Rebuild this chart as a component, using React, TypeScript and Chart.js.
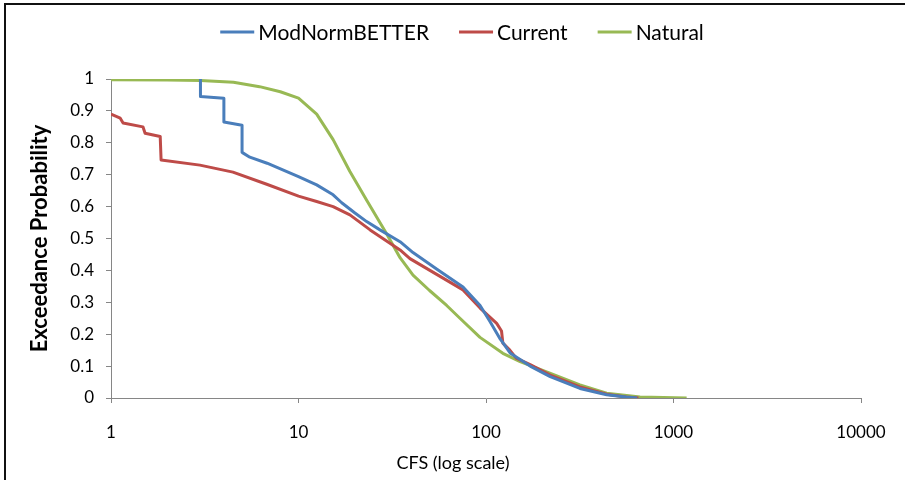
import React, { useEffect, useRef } from "react";
import { Chart, registerables } from "chart.js";

Chart.register(...registerables);

// ---- Data ----
const seriesNames = ["ModNormBETTER", "Current", "Natural"];

const modNormCfs = [3.0, 3.0, 4.0, 4.0, 5.0, 5.0, 5.5, 6.8, 10, 12.5, 15.3, 17, 20, 23.1, 27.2, 34.8, 40.8, 55, 75.4, 93, 105, 119, 135, 172, 220, 317, 440, 560, 640];
const modNormProb = [1.0, 0.945, 0.94, 0.865, 0.855, 0.77, 0.755, 0.736, 0.694, 0.668, 0.637, 0.612, 0.58, 0.553, 0.527, 0.49, 0.456, 0.403, 0.348, 0.29, 0.24, 0.185, 0.14, 0.1, 0.067, 0.03, 0.01, 0.003, 0.0];

const currentCfs = [1.0, 1.12, 1.16, 1.48, 1.52, 1.83, 1.85, 2.98, 4.47, 6.77, 10, 12.5, 15.3, 18.8, 24.1, 34.8, 39.3, 75.4, 93, 114, 121, 123, 134, 145, 172, 220, 317, 440, 560, 650];
const currentProb = [0.89, 0.877, 0.862, 0.85, 0.83, 0.82, 0.746, 0.73, 0.708, 0.67, 0.633, 0.616, 0.6, 0.574, 0.527, 0.464, 0.437, 0.339, 0.282, 0.234, 0.21, 0.172, 0.15, 0.125, 0.105, 0.072, 0.035, 0.012, 0.003, 0.0];

const naturalCfs = [1.0, 2.0, 3.0, 4.5, 6.2, 8.0, 10, 12.5, 15.3, 18.8, 23.1, 29.5, 34.8, 40.8, 50, 61.7, 72.6, 92.9, 123, 152, 219, 317, 440, 663, 1175];
const naturalProb = [0.998, 0.997, 0.995, 0.99, 0.976, 0.96, 0.94, 0.89, 0.81, 0.71, 0.62, 0.515, 0.44, 0.385, 0.337, 0.29, 0.25, 0.19, 0.14, 0.114, 0.078, 0.041, 0.015, 0.003, 0.0];

const xTickValues = [1, 10, 100, 1000, 10000];
const yTickValues = [0, 0.1, 0.2, 0.3, 0.4, 0.5, 0.6, 0.7, 0.8, 0.9, 1];

const xTitle = "CFS (log scale)";
const yTitle = "Exceedance Probability";

const colors = ["#4a7ebb", "#be4b48", "#98b954"];
const FONT = "Lato, 'Open Sans', sans-serif";

function toPoints(xs: number[], ys: number[]) {
  return xs.map((x, i) => ({ x, y: ys[i] }));
}

const overlayPlugin = {
  id: "overlay",
  afterDraw(chart: any) {
    const ctx = chart.ctx;
    const area = chart.chartArea;
    ctx.save();
    // Legend
    ctx.font = `21px ${FONT}`;
    ctx.textBaseline = "middle";
    ctx.textAlign = "left";
    const lineLen = 34;
    const gap = 4;
    const itemGap = 30;
    const widths = seriesNames.map((n) => ctx.measureText(n).width);
    const total = widths.reduce((a, w) => a + lineLen + gap + w, 0) + itemGap * (seriesNames.length - 1);
    let x = 462 - total / 2;
    const ly = 32;
    seriesNames.forEach((n, i) => {
      ctx.strokeStyle = colors[i];
      ctx.lineWidth = 3;
      ctx.beginPath();
      ctx.moveTo(x, ly);
      ctx.lineTo(x + lineLen, ly);
      ctx.stroke();
      ctx.fillStyle = "#000";
      ctx.fillText(n, x + lineLen + gap, ly + 1);
      x += lineLen + gap + widths[i] + itemGap;
    });
    // X title
    ctx.font = `18px ${FONT}`;
    ctx.textAlign = "center";
    ctx.fillText(xTitle, 453, 463);
    // Y title
    ctx.font = `bold 22px ${FONT}`;
    ctx.translate(40, (area.top + area.bottom) / 2);
    ctx.rotate(-Math.PI / 2);
    ctx.fillText(yTitle, 0, 0);
    ctx.restore();
  },
};

export default function App() {
  const ref = useRef<HTMLCanvasElement>(null);
  useEffect(() => {
    if (!ref.current) return;
    const chart = new Chart(ref.current, {
      type: "scatter",
      data: {
        datasets: [
          { label: seriesNames[0], data: toPoints(modNormCfs, modNormProb) },
          { label: seriesNames[1], data: toPoints(currentCfs, currentProb) },
          { label: seriesNames[2], data: toPoints(naturalCfs, naturalProb) },
        ].map((d, i) => ({
          ...d,
          showLine: true,
          borderColor: colors[i],
          backgroundColor: colors[i],
          borderWidth: 3,
          pointRadius: 0,
          pointHoverRadius: 0,
          tension: 0,
          borderJoinStyle: "round" as const,
        })),
      },
      options: {
        animation: false,
        responsive: false,
        maintainAspectRatio: false,
        layout: { padding: { left: 0, top: 79, right: 44, bottom: 0 } },
        plugins: { legend: { display: false }, tooltip: { enabled: false } },
        scales: {
          x: {
            type: "logarithmic",
            min: 1,
            max: 10000,
            afterBuildTicks: (scale: any) => {
              scale.ticks = xTickValues.map((v) => ({ value: v }));
            },
            afterFit: (scale: any) => {
              scale.height = 82;
            },
            ticks: {
              autoSkip: false,
              maxRotation: 0,
              padding: 19,
              color: "#000",
              font: { family: FONT, size: 17 },
              callback: (v: any) => String(v),
            },
            grid: { display: true, drawOnChartArea: false, drawTicks: true, tickLength: 5, color: "#868686" },
            border: { display: true, color: "#868686", width: 1 },
          },
          y: {
            type: "linear",
            min: 0,
            max: 1,
            afterBuildTicks: (scale: any) => {
              scale.ticks = yTickValues.map((v) => ({ value: v }));
            },
            afterFit: (scale: any) => {
              scale.width = 111;
            },
            ticks: {
              autoSkip: false,
              padding: 12,
              color: "#000",
              font: { family: FONT, size: 17 },
              callback: (v: any) => String(Number(Number(v).toFixed(1))),
            },
            grid: { display: true, drawOnChartArea: false, drawTicks: true, tickLength: 5, color: "#868686" },
            border: { display: true, color: "#868686", width: 1 },
          },
        },
      },
      plugins: [overlayPlugin],
    });
    return () => chart.destroy();
  }, []);

  return (
    <div style={{ position: "fixed", left: 0, top: 0, width: 905, height: 480, background: "#fff" }}>
      <canvas ref={ref} width={905} height={480} style={{ display: "block", width: 905, height: 480 }} />
      <div
        style={{
          position: "absolute",
          left: 4,
          top: 3,
          width: 905,
          height: 480,
          borderTop: "2px solid #111",
          borderLeft: "2px solid #111",
          pointerEvents: "none",
        }}
      />
    </div>
  );
}
